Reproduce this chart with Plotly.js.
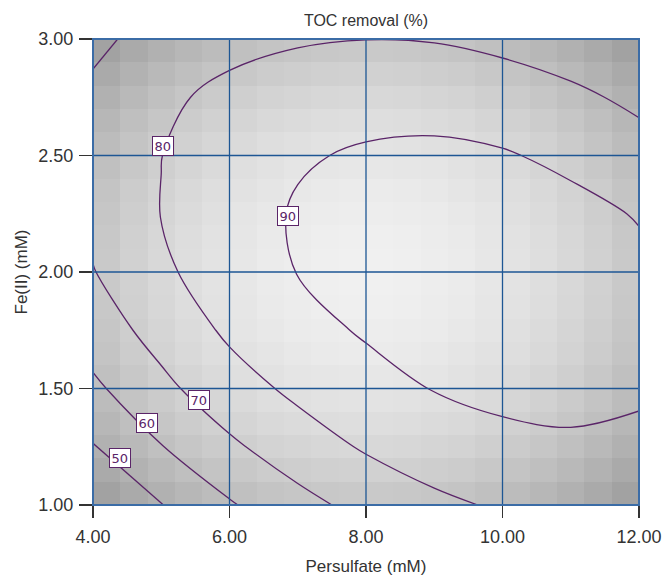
<!DOCTYPE html>
<html>
<head>
<meta charset="utf-8">
<script src="https://cdn.plot.ly/plotly-3.0.1.min.js"></script>
<style>html,body{margin:0;padding:0;background:#fff}#chart{width:663px;height:581px}</style>
</head>
<body>
<div id="chart"></div>
<script>
// Persulfate (mM) grid and Fe(II) (mM) grid for the response surface
const persulfate = [4, 5, 6, 7, 8, 9, 10, 11, 12];
const fe2 = [1.0, 1.25, 1.5, 1.75, 2.0, 2.25, 2.5, 2.75, 3.0];
// TOC removal (%) estimated from the contour plot, rows follow fe2, columns follow persulfate
const tocRemoval = [
  [38.85, 49.70, 59.03, 66.85, 73.14, 77.92, 81.18, 82.92, 83.14],
  [49.49, 59.64, 68.29, 75.41, 81.01, 85.10, 87.67, 88.72, 88.25],
  [58.16, 67.62, 76.00, 82.01, 86.92, 90.32, 92.19, 92.56, 91.10],
  [64.86, 73.64, 81.60, 87.20, 90.87, 93.57, 94.76, 94.43, 92.58],
  [69.61, 78.40, 84.90, 90.20, 92.85, 94.86, 95.36, 94.34, 91.80],
  [72.38, 80.20, 86.10, 90.80, 92.86, 94.18, 93.99, 92.28, 89.50],
  [73.20, 79.91, 85.09, 89.20, 90.91, 91.55, 90.66, 88.26, 84.34],
  [71.60, 78.07, 82.56, 85.54, 87.00, 86.94, 85.37, 82.28, 77.66],
  [68.30, 73.00, 77.00, 79.00, 79.90, 79.50, 77.40, 74.00, 70.60]
];
const contourLevels = [50, 60, 70, 80, 90];
const contourLabels = ['50', '60', '70', '80', '90'];

// background shading cells (grey level 0-255)
const cellPersulfate = [4.2, 4.6, 5.0, 5.4, 5.8, 6.2, 6.6, 7.0, 7.4, 7.8, 8.2, 8.6, 9.0, 9.4, 9.8, 10.2, 10.6, 11.0, 11.4, 11.8];
const cellFe2 = [1.05, 1.15, 1.25, 1.35, 1.45, 1.55, 1.65, 1.75, 1.85, 1.95, 2.05, 2.15, 2.25, 2.35, 2.45, 2.55, 2.65, 2.75, 2.85, 2.95];
const shade = [
  [162,170,177,183,188,192,196,198,200,201,201,200,198,196,192,188,183,177,170,162],
  [170,178,185,191,196,200,204,206,208,209,209,208,206,204,200,196,191,185,178,170],
  [177,185,192,198,203,207,211,213,215,216,216,215,213,211,207,203,198,192,185,177],
  [183,191,198,204,209,213,217,219,221,222,222,221,219,217,213,209,204,198,191,183],
  [188,196,203,209,214,218,222,224,226,227,227,226,224,222,218,214,209,203,196,188],
  [192,200,207,213,218,223,226,229,230,231,231,230,229,226,223,218,213,207,200,192],
  [196,204,211,217,222,226,229,232,234,235,235,234,232,229,226,222,217,211,204,196],
  [198,206,213,219,224,229,232,235,236,237,237,236,235,232,229,224,219,213,206,198],
  [200,208,215,221,226,230,234,236,238,239,239,238,236,234,230,226,221,215,208,200],
  [201,209,216,222,227,231,235,237,239,240,240,239,237,235,231,227,222,216,209,201],
  [201,209,216,222,227,231,235,237,239,240,240,239,237,235,231,227,222,216,209,201],
  [200,208,215,221,226,230,234,236,238,239,239,238,236,234,230,226,221,215,208,200],
  [198,206,213,219,224,229,232,235,236,237,237,236,235,232,229,224,219,213,206,198],
  [196,204,211,217,222,226,229,232,234,235,235,234,232,229,226,222,217,211,204,196],
  [192,200,207,213,218,223,226,229,230,231,231,230,229,226,223,218,213,207,200,192],
  [188,196,203,209,214,218,222,224,226,227,227,226,224,222,218,214,209,203,196,188],
  [183,191,198,204,209,213,217,219,221,222,222,221,219,217,213,209,204,198,191,183],
  [177,185,192,198,203,207,211,213,215,216,216,215,213,211,207,203,198,192,185,177],
  [170,178,185,191,196,200,204,206,208,209,209,208,206,204,200,196,191,185,178,170],
  [162,170,177,183,188,192,196,198,200,201,201,200,198,196,192,188,183,177,170,162]
];

const xTicks = [4, 6, 8, 10, 12];
const yTicks = [1.0, 1.5, 2.0, 2.5, 3.0];

const purple = '#5a2468';
const gridBlue = '#1d5694';
const frameBlue = '#3b6ca6';

const heat = {
  type: 'heatmap', x: cellPersulfate, y: cellFe2, z: shade,
  zmin: 0, zmax: 255, zsmooth: false, showscale: false, hoverinfo: 'skip',
  colorscale: [[0, 'rgb(0,0,0)'], [1, 'rgb(255,255,255)']]
};
const cont = {
  type: 'contour', x: persulfate, y: fe2, z: tocRemoval, showscale: false,
  autocontour: false,
  contours: {start: contourLevels[0], end: contourLevels[contourLevels.length - 1], size: 10, coloring: 'none', showlabels: false},
  line: {color: purple, width: 1.3, smoothing: 1.0}
};

const shapes = [];
xTicks.slice(1, -1).forEach(v => shapes.push({type: 'line', xref: 'x', yref: 'paper', x0: v, x1: v, y0: 0, y1: 1, line: {color: gridBlue, width: 1.3}, layer: 'above'}));
yTicks.slice(1, -1).forEach(v => shapes.push({type: 'line', xref: 'paper', yref: 'y', x0: 0, x1: 1, y0: v, y1: v, line: {color: gridBlue, width: 1.3}, layer: 'above'}));
shapes.push({type: 'rect', xref: 'paper', yref: 'paper', x0: 0, x1: 1, y0: 0, y1: 1, line: {color: frameBlue, width: 2}, layer: 'above'});

// contour label boxes (positions in the plot)
const labelPos = [[4.40, 1.20], [4.79, 1.35], [5.56, 1.45], [5.03, 2.54], [6.86, 2.24]];
const annotations = contourLabels.map((t, i) => ({
  x: labelPos[i][0], y: labelPos[i][1], xref: 'x', yref: 'y', text: t, showarrow: false,
  font: {family: 'DejaVu Sans', size: 13, color: purple},
  bgcolor: '#ffffff', bordercolor: purple, borderwidth: 1, borderpad: 1.5
}));

const font = 'Liberation Sans, Arial, sans-serif';
const layout = {
  width: 663, height: 581,
  margin: {l: 93, r: 24, t: 39, b: 76},
  paper_bgcolor: '#ffffff', plot_bgcolor: '#ffffff',
  font: {family: font, color: '#333'},
  title: {text: 'TOC removal (%)', font: {family: font, size: 16, color: '#333'}, x: 0.5, xref: 'paper', y: 1 - 20 / 581, yref: 'container', yanchor: 'middle'},
  xaxis: {
    range: [4, 12], tickvals: xTicks, tickformat: '.2f', ticks: 'outside', ticklen: 12, tickwidth: 1.5, tickcolor: '#333',
    ticklabelstandoff: 3,
    tickfont: {family: font, size: 18, color: '#333'}, showgrid: false, zeroline: false, showline: false,
    title: {text: 'Persulfate (mM)', font: {family: font, size: 17, color: '#333'}, standoff: 14}
  },
  yaxis: {
    range: [1, 3], tickvals: yTicks, tickformat: '.2f', ticks: 'outside', ticklen: 13, tickwidth: 1.5, tickcolor: '#333',
    ticklabelstandoff: 2,
    tickfont: {family: font, size: 18, color: '#333'}, showgrid: false, zeroline: false, showline: false,
    title: {text: 'Fe(II) (mM)', font: {family: font, size: 17, color: '#333'}, standoff: 6}
  },
  shapes: shapes,
  annotations: annotations,
  showlegend: false
};
Plotly.newPlot('chart', [heat, cont], layout, {staticPlot: true, displayModeBar: false});
</script>
</body>
</html>
